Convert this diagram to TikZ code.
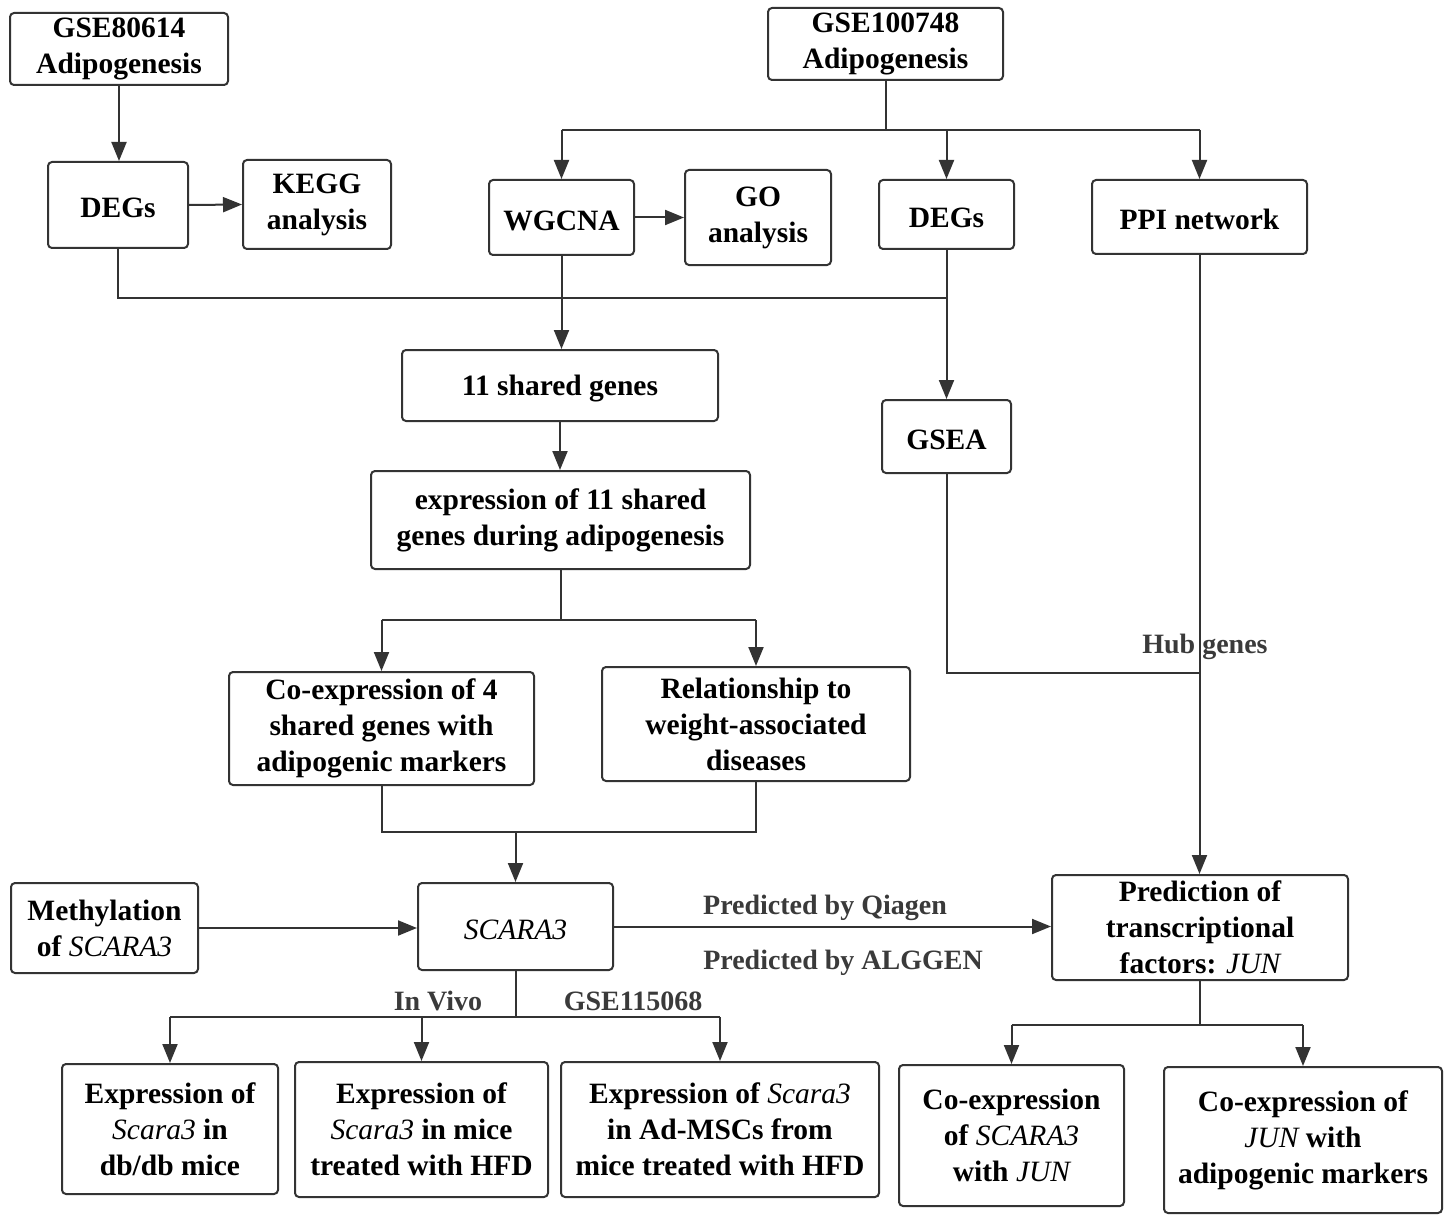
\documentclass[tikz,border=0pt]{standalone}
\usepackage{fontspec}
\setmainfont{Liberation Serif}
\usetikzlibrary{arrows.meta}
\definecolor{ln}{HTML}{333333}
\definecolor{lb}{HTML}{3A3A3A}
\begin{document}
\begin{tikzpicture}[x=1pt,y=-1pt,
  box/.style={draw=ln,line width=2pt,rounded corners=4pt,align=center,inner sep=2pt,
    font=\fontsize{29.5}{36}\selectfont\bfseries,text=black,
    execute at begin node={\rule{0pt}{26pt}}},
  wire/.style={draw=ln,line width=2pt},
  arr/.style={wire,-{Triangle[width=15pt,length=19pt]}},
  lab/.style={font=\fontsize{28}{32}\selectfont\bfseries,text=lb,inner sep=1pt}]
\useasboundingbox (0,0) rectangle (1454,1225);
\newcommand{\gi}[1]{{\mdseries\itshape #1}}
% boxes
\node[box,minimum width=218,minimum height=72] (g80) at (119,49) {GSE80614\\Adipogenesis};
\node[box,minimum width=235,minimum height=72] (g100) at (885.5,44) {GSE100748\\Adipogenesis};
\node[box,minimum width=140,minimum height=86] (degL) at (118,205) {DEGs};
\node[box,minimum width=148,minimum height=89] (kegg) at (317,204.5) {KEGG\\analysis};
\node[box,minimum width=145,minimum height=75] (wgcna) at (561.5,217.5) {WGCNA};
\node[box,minimum width=146,minimum height=95] (go) at (758,217.5) {GO\\analysis};
\node[box,minimum width=135,minimum height=69] (degR) at (946.5,214.5) {DEGs};
\node[box,minimum width=215,minimum height=74] (ppi) at (1199.5,217) {PPI network};
\node[box,minimum width=316,minimum height=71] (sh11) at (560,385.5) {11 shared genes};
\node[box,minimum width=129,minimum height=73] (gsea) at (946.5,436.5) {GSEA};
\node[box,minimum width=379,minimum height=98] (expr) at (560.5,520) {expression of 11 shared\\genes during adipogenesis};
\node[box,minimum width=305,minimum height=113] (coex4) at (381.5,728.5) {Co-expression of 4\\shared genes with\\adipogenic markers};
\node[box,minimum width=308,minimum height=114] (rel) at (756,724) {Relationship to\\weight-associated\\diseases};
\node[box,minimum width=187,minimum height=90] (meth) at (104.5,928) {Methylation\\of \gi{SCARA3}};
\node[box,minimum width=195,minimum height=87] (scara) at (515.5,926.5) {\gi{SCARA3}};
\node[box,minimum width=296,minimum height=105] (pred) at (1200,927.5) {Prediction of\\transcriptional\\factors: \gi{JUN}};
\node[box,minimum width=216,minimum height=130] (db) at (170,1129) {Expression of\\\gi{Scara3} in\\db/db mice};
\node[box,minimum width=253,minimum height=135] (hfd) at (421.5,1129.5) {Expression of\\\gi{Scara3} in mice\\treated with HFD};
\node[box,minimum width=318,minimum height=135] (adm) at (720,1129.5) {Expression of \gi{Scara3}\\in Ad-MSCs from\\mice treated with HFD};
\node[box,minimum width=225,minimum height=141] (cosj) at (1011.5,1135.5) {Co-expression\\of \gi{SCARA3}\\with \gi{JUN}};
\node[box,minimum width=278,minimum height=146] (cojun) at (1303,1140) {Co-expression of\\\gi{JUN} with\\adipogenic markers};
% junction coordinates
\coordinate (j1) at (0,130);
\coordinate (j2) at (0,298);
\coordinate (j3) at (0,620);
\coordinate (j5) at (0,673);
\coordinate (j4) at (0,832);
\coordinate (j6) at (0,1017);
\coordinate (j7) at (0,1025);
% connectors
\draw[arr] (g80.south) -- (g80.south |- degL.north);
\draw[arr] (degL.east) -- (kegg.west);
\draw[wire] (g100.south) -- (g100.south |- j1);
\draw[wire] (j1 -| wgcna.north) -- (j1 -| ppi.north);
\draw[arr] (j1 -| wgcna.north) -- (wgcna.north);
\draw[arr] (j1 -| degR.north) -- (degR.north);
\draw[arr] (j1 -| ppi.north) -- (ppi.north);
\draw[arr] (wgcna.east) -- (wgcna.east -| go.west);
\draw[wire] (degL.south) -- (degL.south |- j2) -- (j2 -| degR.south);
\draw[arr] (wgcna.south) -- (wgcna.south |- sh11.north);
\draw[arr] (degR.south) -- (gsea.north);
\draw[arr] (sh11.south) -- (sh11.south |- expr.north);
\draw[wire] (expr.south) -- (expr.south |- j3);
\draw[wire] (j3 -| coex4.north) -- (j3 -| rel.north);
\draw[arr] (j3 -| coex4.north) -- (coex4.north);
\draw[arr] (j3 -| rel.north) -- (rel.north);
\draw[wire] (gsea.south) -- (gsea.south |- j5) -- (j5 -| ppi.south);
\draw[arr] (ppi.south) -- (ppi.south |- pred.north);
\draw[wire] (coex4.south) -- (coex4.south |- j4) -- (j4 -| rel.south) -- (rel.south);
\draw[arr] (j4 -| scara.north) -- (scara.north);
\draw[arr] (meth.east) -- (meth.east -| scara.west);
\draw[arr] (scara.east) -- (scara.east -| pred.west);
\draw[wire] (scara.south) -- (scara.south |- j6);
\draw[wire] (j6 -| db.north) -- (j6 -| adm.north);
\draw[arr] (j6 -| db.north) -- (db.north);
\draw[arr] (j6 -| hfd.north) -- (hfd.north);
\draw[arr] (j6 -| adm.north) -- (adm.north);
\draw[wire] (pred.south) -- (pred.south |- j7);
\draw[wire] (j7 -| cosj.north) -- (j7 -| cojun.north);
\draw[arr] (j7 -| cosj.north) -- (cosj.north);
\draw[arr] (j7 -| cojun.north) -- (cojun.north);
% labels
\node[lab] (hub) at (1205,647) {Hub genes};
\node[lab] (lq) at (825,908) {Predicted by Qiagen};
\node[lab] (la) at (843,963) {Predicted by ALGGEN};
\node[lab] (lv) at (438,1001) {In Vivo};
\node[lab] (lg) at (633,1001) {GSE115068};
\end{tikzpicture}
\end{document}
